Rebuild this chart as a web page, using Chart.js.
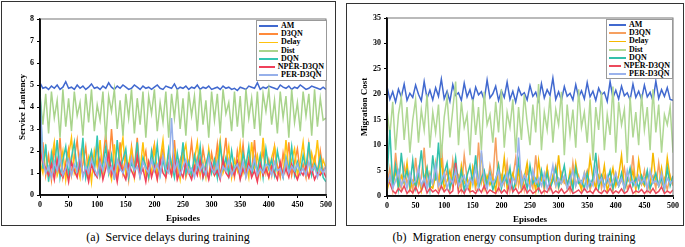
<!DOCTYPE html>
<html>
<head>
<meta charset="utf-8">
<script src="https://cdn.jsdelivr.net/npm/chart.js@4.4.1/dist/chart.umd.min.js"></script>
<style>
  body { margin: 0; width: 685px; height: 247px; background: #fff; position: relative; overflow: hidden; }
  canvas { position: absolute; }
  .panel { position: absolute; border: 1.5px solid #333; box-sizing: border-box; pointer-events: none; }
  .legend { position: absolute; border: 1px solid #999; background: #fff; font: bold 8px "Liberation Serif", serif; padding: 1px 2px; box-sizing: border-box; }
  .legend div { height: 8.2px; line-height: 8.2px; white-space: nowrap; display: flex; align-items: center; }
  .legend span.swatch { display: inline-block; height: 1.8px; margin-right: 3px; }
  .caption { position: absolute; font: 12px "Liberation Serif", serif; white-space: pre; transform: translateX(-50%); }
</style>
</head>
<body>
<canvas id="chartA" width="330" height="220" style="left:4px;top:4px"></canvas>
<canvas id="chartB" width="332" height="220" style="left:349px;top:5px"></canvas>
<div class="panel" style="left:1px;top:1px;width:335px;height:225px"></div>
<div class="panel" style="left:346px;top:3px;width:338px;height:223px"></div>
<div class="legend" id="legendA" style="left:256px;top:20px;width:71px;height:61px"></div>
<div class="legend" id="legendB" style="left:606px;top:19px;width:67px;height:60px"></div>
<div class="caption" style="left:168px;top:230px">(a)  Service delays during training</div>
<div class="caption" style="left:514px;top:230px">(b)  Migration energy consumption during training</div>
<script>
const names = ["AM", "D3QN", "Delay", "Dist", "DQN", "NPER-D3QN", "PER-D3QN"];

const episodes = [0,5,10,15,20,25,30,35,40,45,50,55,60,65,70,75,80,85,90,95,
  100,105,110,115,120,125,130,135,140,145,150,155,160,165,170,175,180,185,190,195,
  200,205,210,215,220,225,230,235,240,245,250,255,260,265,270,275,280,285,290,295,
  300,305,310,315,320,325,330,335,340,345,350,355,360,365,370,375,380,385,390,395,
  400,405,410,415,420,425,430,435,440,445,450,455,460,465,470,475,480,485,490,495,500];

// (a) service latency
const amA = [5.1,4.85,4.9,4.8,4.95,4.85,5.0,4.8,4.9,5.15,
  4.85,4.9,4.8,5.0,4.85,4.95,4.8,4.9,5.05,4.85,
  4.9,4.8,4.95,4.85,5.1,4.9,4.8,4.95,4.85,5.0,
  4.9,4.8,4.85,5.0,4.9,4.8,4.95,4.85,4.9,4.8,
  4.9,5.0,4.85,4.8,4.95,4.9,4.85,5.05,4.8,4.9,
  4.85,4.95,4.8,4.9,4.85,5.0,4.8,4.9,4.85,4.95,
  4.8,4.85,4.9,4.8,4.95,4.85,4.9,4.8,4.85,4.75,
  4.9,4.85,4.8,4.95,4.9,4.85,5.1,4.8,4.9,4.85,
  4.95,4.9,4.85,4.8,5.0,4.9,4.85,4.95,4.8,4.9,
  4.85,5.0,4.9,4.8,4.85,4.95,4.9,4.85,4.8,4.9,4.8];
const d3qnA = [1.2,2.4,0.9,1.8,0.7,2.2,1.1,2.6,0.8,1.5,
  2.1,0.9,1.7,2.5,1.0,1.4,2.2,0.8,1.9,1.2,
  2.3,0.9,1.6,2.8,1.1,3.0,1.3,0.8,2.4,1.0,
  1.8,0.7,2.2,1.2,2.6,0.9,1.5,2.0,0.8,1.7,
  2.3,1.0,1.4,2.1,0.8,1.9,1.2,2.5,0.9,1.6,
  2.0,0.8,1.3,2.4,1.1,1.7,0.9,2.1,1.3,0.8,
  1.9,1.2,2.3,0.9,1.5,2.6,1.0,1.4,0.8,2.0,
  1.2,2.3,0.9,1.7,1.1,2.5,0.8,1.4,2.0,1.0,
  1.6,0.9,2.2,1.3,0.8,1.9,1.1,2.4,0.9,1.5,
  2.1,1.0,1.4,0.8,2.3,1.2,1.7,0.9,2.0,1.1,1.3];
const delayA = [1.5,1.0,2.1,0.8,1.6,2.4,0.9,1.3,2.0,0.7,
  1.8,2.6,1.0,1.4,0.8,2.2,1.1,1.7,0.6,2.0,
  1.3,2.5,0.9,1.6,1.2,0.7,2.3,1.0,1.8,2.6,
  0.9,1.4,2.1,0.8,1.7,1.1,2.4,0.9,1.5,1.0,
  2.2,0.8,1.6,2.5,1.0,1.3,0.9,2.0,1.4,0.7,
  1.8,2.3,1.1,0.9,1.6,2.4,1.0,1.5,0.8,2.1,
  1.2,0.9,1.7,2.5,1.0,1.4,2.2,0.8,1.6,1.1,
  2.3,1.0,1.5,0.8,2.4,1.2,1.8,0.9,2.6,1.3,
  0.8,1.7,2.2,1.0,1.4,0.9,2.5,1.1,1.6,2.1,
  0.9,1.5,2.4,1.1,0.8,1.9,1.3,2.5,1.0,1.6,1.2];
const distA = [4.5,3.2,4.6,2.8,4.7,3.5,4.3,2.6,4.8,3.1,
  4.4,2.9,4.7,3.6,4.2,2.7,4.6,3.3,4.8,2.9,
  4.1,3.4,4.7,2.5,4.5,3.8,4.8,3.0,4.3,2.7,
  4.6,3.5,4.8,2.8,4.4,3.2,4.7,2.6,4.5,3.7,
  4.8,2.9,4.2,3.3,4.7,2.6,4.6,3.5,4.8,3.0,
  4.4,2.7,4.7,3.6,4.5,2.9,4.8,3.2,4.3,2.6,
  4.7,3.4,4.6,2.8,4.8,3.7,4.2,2.9,4.7,3.1,
  4.5,2.6,4.8,3.5,4.4,3.0,4.7,2.7,4.6,3.8,
  4.8,3.2,4.3,2.8,4.7,3.5,4.5,2.6,4.8,3.3,
  4.2,2.9,4.7,3.6,4.6,2.7,4.8,3.1,4.4,3.4,3.5];
const dqnA = [4.8,1.2,2.3,0.6,1.9,1.1,2.5,0.8,1.6,2.2,
  0.9,1.7,2.4,1.0,1.3,2.6,0.8,1.5,2.0,1.1,
  2.7,0.9,1.4,2.2,1.0,1.8,0.7,2.5,1.2,1.6,
  2.1,0.8,1.5,1.1,2.4,0.9,1.7,1.3,0.8,2.0,
  1.2,2.3,0.9,1.6,1.0,2.1,1.4,0.8,1.9,1.1,
  2.4,1.0,1.5,0.9,1.8,1.2,2.2,0.8,1.4,1.9,
  1.0,1.6,0.8,2.3,1.2,1.7,0.9,2.0,1.1,1.5,
  0.8,1.9,1.3,2.2,0.9,1.5,1.1,1.8,0.8,2.1,
  1.2,1.6,0.9,2.0,1.3,0.8,1.7,1.1,2.2,0.9,
  1.5,1.0,1.8,1.2,2.4,0.9,1.4,1.1,1.7,0.8,0.6];
const nperA = [2.0,1.5,1.2,0.9,1.4,0.7,1.6,1.0,0.8,1.3,
  0.6,1.5,1.1,0.8,1.7,0.9,1.2,0.6,1.4,1.0,
  0.8,1.6,0.7,1.2,1.9,0.9,1.3,0.6,1.5,1.0,
  0.7,1.4,1.1,0.8,1.8,0.9,1.2,0.6,1.5,0.8,
  1.3,0.7,1.6,1.0,0.8,1.4,0.9,1.7,0.7,1.1,
  0.8,1.5,1.0,0.7,1.3,0.9,1.6,0.8,1.2,0.7,
  1.4,0.9,1.1,0.7,1.6,1.0,0.8,1.3,0.9,1.5,
  0.7,1.2,0.9,1.5,0.8,1.1,0.6,1.4,0.9,1.2,
  0.8,1.3,1.0,0.7,1.5,0.9,1.2,0.8,1.4,1.0,
  0.7,1.1,0.9,1.3,0.8,1.2,0.7,1.0,0.9,1.1,0.8];
const perA = [4.5,1.6,1.0,1.3,0.8,1.5,1.1,1.8,0.9,1.2,
  1.6,0.9,1.4,1.1,1.9,0.8,1.3,1.0,1.6,1.2,
  0.9,1.5,1.1,1.7,1.0,1.3,0.8,1.6,1.2,1.0,
  1.4,0.9,1.7,1.1,1.3,0.8,1.5,1.2,1.0,1.6,
  1.1,1.4,0.9,1.8,1.2,1.0,3.5,1.1,1.5,0.9,
  1.3,1.6,1.0,1.2,0.8,1.5,1.1,1.4,0.9,1.7,
  1.2,1.0,1.5,0.8,1.3,1.1,1.6,0.9,1.2,1.4,
  1.0,1.5,0.8,1.3,1.1,1.7,0.9,1.2,1.0,1.4,
  1.3,0.9,1.5,1.1,1.2,0.8,1.6,1.0,1.3,1.1,
  1.4,1.0,1.2,0.9,1.5,1.1,1.3,0.8,1.2,1.0,1.3];

// (b) migration cost
const amB = [21.5,19.0,20.5,18.5,21.0,19.5,22.0,18.8,20.2,19.4,
  21.8,20.0,18.7,22.5,19.2,20.8,18.9,21.3,19.6,23.0,
  19.1,20.6,18.6,21.9,19.8,20.3,18.8,22.2,19.5,20.9,
  18.7,21.4,19.9,20.5,18.9,22.8,19.3,20.1,21.6,18.8,
  20.7,19.4,22.4,19.0,20.6,18.5,21.2,19.8,20.3,18.9,
  21.7,19.6,20.4,18.7,22.1,19.3,20.9,19.8,23.2,19.0,
  20.5,18.8,21.5,19.6,20.2,18.9,21.9,19.4,20.7,19.1,
  22.3,19.5,20.6,18.8,21.2,19.9,20.4,18.6,22.5,19.3,
  20.8,19.1,21.6,19.7,20.3,18.9,22.0,19.4,20.6,19.0,
  21.8,19.5,20.4,18.7,22.6,19.2,20.9,19.6,21.3,19.0,18.8];
const d3qnB = [2.0,5.5,1.2,8.5,3.0,1.5,6.0,2.5,4.0,1.0,
  7.5,2.0,3.5,9.5,1.8,4.5,2.2,6.5,1.0,10.0,
  3.0,5.0,1.5,7.0,2.5,4.0,1.2,8.0,3.5,2.0,
  5.5,1.0,10.5,2.5,4.5,1.8,6.0,3.0,11.5,1.5,
  4.0,2.2,6.5,1.0,3.5,7.5,2.0,4.5,1.2,5.0,
  3.0,1.5,8.0,2.5,4.0,1.0,5.5,2.0,3.5,6.0,
  1.5,4.5,2.5,3.0,1.0,6.5,2.0,4.0,1.8,3.5,
  5.0,1.2,3.0,2.0,7.0,1.5,4.0,2.5,3.5,1.0,
  4.5,2.0,3.0,5.5,1.5,2.5,8.0,1.8,3.5,2.2,
  5.0,1.0,3.0,4.0,1.5,6.5,2.0,3.5,1.2,4.0,2.0];
const delayB = [1.0,3.5,2.0,5.0,1.5,4.0,2.5,6.5,1.2,3.0,
  2.0,4.5,1.0,3.5,5.5,2.0,1.5,4.0,2.8,7.0,
  1.5,3.0,5.0,2.0,4.5,1.2,6.0,2.5,3.5,1.0,
  5.5,2.0,3.0,8.5,1.5,4.0,2.2,3.5,1.0,6.0,
  2.5,7.5,1.5,3.0,4.5,2.0,5.0,1.2,3.5,6.5,
  2.0,4.0,1.0,7.0,3.0,2.5,5.5,1.5,4.0,2.0,
  8.0,2.5,3.5,1.5,5.0,2.0,6.5,3.0,1.2,4.5,
  2.0,7.5,3.5,1.5,4.0,2.5,6.0,1.0,3.0,5.5,
  2.0,4.0,8.0,1.5,3.5,2.5,5.0,1.2,7.0,3.0,
  2.0,4.5,1.5,8.5,3.0,2.0,5.5,1.5,7.5,3.5,2.5];
const distB = [17.0,12.0,18.5,9.0,16.0,19.5,11.0,17.5,8.5,15.0,
  19.0,10.5,17.0,13.0,20.0,9.5,16.5,12.5,18.0,7.5,
  15.5,19.5,11.5,17.0,22.5,10.0,18.5,13.5,16.0,8.0,
  19.0,12.0,17.5,9.0,20.5,14.0,16.0,10.5,18.5,12.5,
  21.0,9.5,16.5,13.5,19.0,8.5,17.5,11.0,20.0,14.5,
  10.0,18.0,12.5,22.0,9.0,16.5,13.0,19.5,10.5,17.0,
  14.0,20.5,8.0,18.0,12.0,17.0,9.5,21.0,13.5,16.5,
  10.5,19.0,7.0,17.5,13.0,20.5,9.0,16.0,12.0,21.5,
  8.5,18.5,14.0,17.0,6.5,19.5,11.5,16.5,10.0,20.0,
  13.0,17.5,9.0,21.0,12.5,18.0,8.5,16.0,14.0,17.5,8.5];
const dqnB = [3.5,13.0,2.0,6.0,1.5,8.5,3.0,5.0,2.0,7.0,
  1.5,4.0,9.0,2.5,5.5,1.2,8.0,3.0,10.5,2.0,
  4.5,6.5,1.5,3.5,7.5,2.0,5.0,1.0,4.0,6.0,
  2.5,8.0,1.5,3.5,5.0,2.0,4.5,1.2,3.0,6.0,
  1.5,4.0,2.5,5.5,1.0,3.0,7.0,2.0,4.0,1.5,
  6.0,2.5,3.5,1.2,5.0,2.0,4.5,1.5,3.0,5.5,
  1.8,3.5,6.0,2.0,4.0,1.2,5.5,2.5,3.0,1.5,
  4.5,2.0,3.5,8.5,1.5,4.0,2.0,3.0,5.0,1.5,
  3.5,2.0,4.5,1.2,3.0,5.5,2.0,3.5,1.5,4.0,
  2.5,5.0,1.5,3.0,4.5,2.0,3.5,1.2,5.5,2.0,4.0];
const nperB = [3.0,2.5,1.0,0.5,1.5,0.8,2.0,0.5,1.2,0.6,
  1.8,0.5,1.0,2.5,0.6,1.5,0.8,1.2,0.5,2.0,
  0.8,1.5,0.5,1.0,6.5,0.6,1.3,0.5,1.8,0.8,
  1.0,0.5,1.5,0.7,2.0,0.5,1.2,0.8,0.5,1.6,
  0.6,1.2,0.5,3.0,0.8,1.5,0.5,1.0,2.0,0.6,
  1.3,0.5,0.9,1.6,0.5,1.1,0.7,2.0,0.5,1.0,
  0.6,1.4,0.5,1.0,1.8,0.5,0.8,1.2,0.5,1.5,
  0.7,1.0,0.5,1.6,0.8,0.5,1.2,0.6,1.5,0.5,
  1.0,0.6,1.4,0.5,0.9,2.2,0.5,1.0,0.7,1.3,
  0.5,1.1,0.6,1.5,0.5,0.9,1.8,0.5,1.0,0.6,1.2];
const perB = [2.0,4.0,1.5,3.0,5.0,2.0,3.5,1.5,4.5,2.5,
  3.0,5.5,2.0,3.5,1.5,4.0,2.5,6.0,2.0,3.0,
  4.5,1.5,3.5,2.5,5.0,2.0,3.0,4.0,1.5,3.5,
  2.5,5.5,2.0,9.0,3.0,1.5,4.0,2.5,3.5,5.0,
  2.0,3.0,4.5,1.5,3.5,2.5,11.5,2.0,4.0,3.0,
  1.5,5.0,2.5,3.5,2.0,4.5,1.5,3.0,6.0,2.0,
  3.5,2.5,4.0,1.5,3.0,5.0,2.0,3.5,2.5,4.5,
  1.5,3.0,2.0,5.5,2.5,3.5,1.5,4.0,2.0,3.0,
  4.5,2.0,3.5,1.5,5.0,2.5,3.0,2.0,4.0,2.5,
  3.5,1.5,5.0,2.5,3.0,2.0,4.5,1.5,3.5,2.5,3.0];

const colorsA = ["#4169cf", "#ff8a3a", "#ffc20e", "#a9d48c", "#33c6b2", "#f0405a", "#96b0ea"];
const colorsB = ["#4169cf", "#f6a060", "#f5b800", "#b0d894", "#33c0aa", "#ec4a5c", "#9ab2ec"];

const frame = {
  id: "frame",
  afterDraw(chart) {
    const { ctx, chartArea: a } = chart;
    ctx.save();
    ctx.strokeStyle = "#777";
    ctx.lineWidth = 1;
    ctx.strokeRect(a.left, a.top, a.right - a.left, a.bottom - a.top);
    ctx.strokeStyle = "#000";
    ctx.lineWidth = 1.6;
    ctx.beginPath();
    ctx.moveTo(a.left, a.top);
    ctx.lineTo(a.left, a.bottom);
    ctx.lineTo(a.right, a.bottom);
    ctx.stroke();
    ctx.restore();
  }
};

const tickFont = { family: "Liberation Serif", size: 8, weight: "bold" };
const titleFont = { family: "Liberation Serif", size: 9, weight: "bold" };

function makeChart(id, series, colors, yMax, yStep, yTitle, yWidth, yTitlePad, pad) {
  const datasets = series.map((vals, i) => ({
    label: names[i],
    data: vals.map((v, k) => ({ x: episodes[k], y: v })),
    borderColor: colors[i],
    borderWidth: 1.5,
    pointRadius: 0,
    tension: 0,
    order: series.length - i
  }));
  return new Chart(document.getElementById(id), {
    type: "line",
    data: { datasets },
    options: {
      responsive: false,
      animation: false,
      layout: { padding: pad },
      plugins: { legend: { display: false }, tooltip: { enabled: false } },
      scales: {
        x: {
          type: "linear", min: 0, max: 500,
          ticks: { stepSize: 50, color: "#000", font: tickFont, padding: 2, maxRotation: 0 },
          grid: { drawOnChartArea: false, tickLength: 3, color: "#000" },
          border: { color: "#000", width: 1.5 },
          title: { display: true, text: "Episodes", color: "#000", font: titleFont, padding: { top: 0, bottom: 0 } },
          afterFit(s) { s.height = 29; }
        },
        y: {
          min: 0, max: yMax,
          ticks: { stepSize: yStep, color: "#000", font: tickFont, padding: 3 },
          grid: { drawOnChartArea: false, tickLength: 3, color: "#000" },
          border: { color: "#000", width: 1.5 },
          title: { display: true, text: yTitle, color: "#000", font: titleFont, padding: { top: yTitlePad, bottom: 0 } },
          afterFit(s) { s.width = yWidth; }
        }
      }
    },
    plugins: [frame]
  });
}

function makeLegend(id, colors, swatch) {
  const box = document.getElementById(id);
  names.forEach((n, i) => {
    const row = document.createElement("div");
    row.innerHTML = '<span class="swatch" style="width:' + swatch + 'px;background:' + colors[i] + '"></span>' + n;
    box.appendChild(row);
  });
}

makeChart("chartA", [amA, d3qnA, delayA, distA, dqnA, nperA, perA], colorsA, 8, 1, "Service Lantency", 36, 13, { top: 15, right: 6, left: 0, bottom: 0 });
makeChart("chartB", [amB, d3qnB, delayB, distB, dqnB, nperB, perB], colorsB, 35, 5, "Migration Cost", 38, 10, { top: 13, right: 8, left: 0, bottom: 0 });
makeLegend("legendA", colorsA, 19);
makeLegend("legendB", colorsB, 17);
</script>
</body>
</html>
